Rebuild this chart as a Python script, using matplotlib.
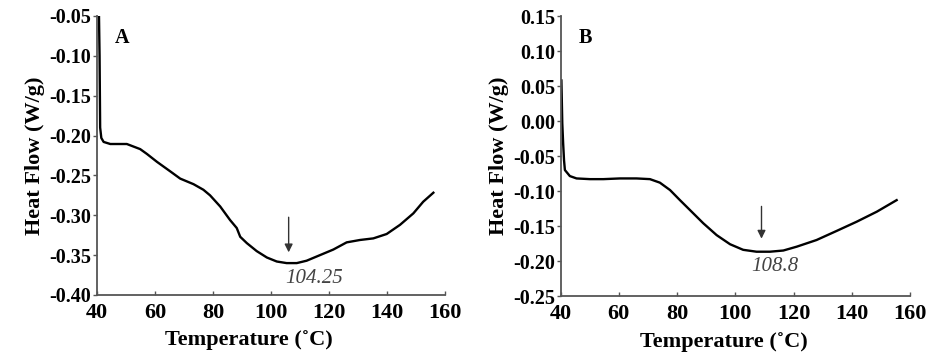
import matplotlib
matplotlib.use("Agg")
import matplotlib.pyplot as plt

plt.rcParams['font.family'] = ['Liberation Serif', 'DejaVu Serif']

# panel A: DSC curve, temperature (C) vs heat flow (W/g)
temp_a = [40.7, 40.9, 41.1, 41.5, 42.3, 44.6, 50.3, 54.9, 57.2, 60.7, 65.3, 68.7,
          73.3, 76.7, 79.0, 82.5, 85.9, 88.2, 89.4, 91.7, 95.1, 98.6, 102.0,
          105.4, 108.9, 112.3, 116.9, 121.5, 126.1, 130.7, 135.3, 139.9, 144.5,
          149.1, 152.5, 156.0]
flow_a = [-0.05, -0.10, -0.19, -0.203, -0.208, -0.2106, -0.2106, -0.217, -0.223,
          -0.233, -0.245, -0.254, -0.261, -0.268, -0.275, -0.289, -0.306, -0.316,
          -0.327, -0.335, -0.345, -0.353, -0.358, -0.360, -0.360, -0.357, -0.350,
          -0.343, -0.334, -0.331, -0.329, -0.3235, -0.312, -0.2976, -0.283, -0.2717]

# panel B
temp_b = [40.3, 40.6, 40.9, 41.2, 41.5, 43.2, 45.5, 50.1, 54.7, 60.4, 66.1, 70.7,
          74.1, 77.6, 81.0, 84.4, 89.0, 93.6, 98.2, 102.7, 107.3, 111.9, 116.5,
          121.1, 127.9, 134.8, 141.7, 148.6, 155.4]
flow_b = [0.058, -0.003, -0.032, -0.056, -0.070, -0.0786, -0.082, -0.083, -0.083,
          -0.082, -0.082, -0.083, -0.088, -0.0986, -0.113, -0.127, -0.146, -0.163,
          -0.176, -0.184, -0.1867, -0.1867, -0.185, -0.1795, -0.170, -0.157,
          -0.1438, -0.1295, -0.113]

panels = [
    dict(letter='A', t=temp_a, f=flow_a, ylim=(-0.40, -0.05), peak='104.25',
         arrow_x=106.1, arrow_top=-0.299, arrow_tip=-0.350, lab_xy=(114.9, -0.379),
         rect=[0.1037, 0.1896, 0.3722, 0.7665], ylab_x=45, xlab_pos=(0.437, -0.161)),
    dict(letter='B', t=temp_b, f=flow_b, ylim=(-0.25, 0.15), peak='108.8',
         arrow_x=109.0, arrow_top=-0.118, arrow_tip=-0.172, lab_xy=(113.6, -0.208),
         rect=[0.5995, 0.1868, 0.3738, 0.769], ylab_x=509, xlab_pos=(0.468, -0.164)),
]

fig = plt.figure(figsize=(9.35, 3.64), dpi=100)

for p in panels:
    ax = fig.add_axes(p['rect'])
    ax.plot(p['t'], p['f'], color='black', lw=1.7, solid_joinstyle='round')
    ax.set_xlim(40, 160)
    ax.set_ylim(*p['ylim'])
    ax.set_xticks(range(40, 161, 20))
    lo, hi = p['ylim']
    n = int(round((hi - lo) / 0.05))
    ax.set_yticks([lo + 0.05 * i for i in range(n + 1)])
    ax.yaxis.set_major_formatter(plt.FormatStrFormatter('%.2f'))
    for s in ['top', 'right']:
        ax.spines[s].set_visible(False)
    for s in ['left', 'bottom']:
        ax.spines[s].set_color('#555555')
        ax.spines[s].set_linewidth(1.3)
    ax.tick_params(axis='x', direction='in', length=3, width=1, color='#555555',
                   labelsize=16, pad=6)
    ax.tick_params(axis='y', direction='out', length=3, width=1, color='#555555',
                   labelsize=14.5, pad=1)
    for lab in ax.get_xticklabels() + ax.get_yticklabels():
        lab.set_fontweight('bold')
    ax.set_xlabel('Temperature (˚C)', fontsize=16, fontweight='bold')
    ax.xaxis.set_label_coords(*p['xlab_pos'])
    ax.xaxis.label.set_va('center')
    ax.set_ylabel('Heat Flow (W/g)', fontsize=16, fontweight='bold')
    ax.yaxis.set_label_coords((p['ylab_x'] - p['rect'][0] * 935) / (p['rect'][2] * 935), 0.5)
    ax.text(48.6, lo + (hi - lo) * 0.92, p['letter'], fontsize=14.5, fontweight='bold',
            ha='center', va='center')
    ax.annotate('', xy=(p['arrow_x'], p['arrow_tip']), xytext=(p['arrow_x'], p['arrow_top']),
                arrowprops=dict(arrowstyle='-|>', color='#333333', lw=1.0, mutation_scale=12))
    ax.text(p['lab_xy'][0], p['lab_xy'][1], p['peak'], fontsize=15, style='italic',
            color='#444444', ha='center', va='center')

fig.savefig('out.png', dpi=100)
